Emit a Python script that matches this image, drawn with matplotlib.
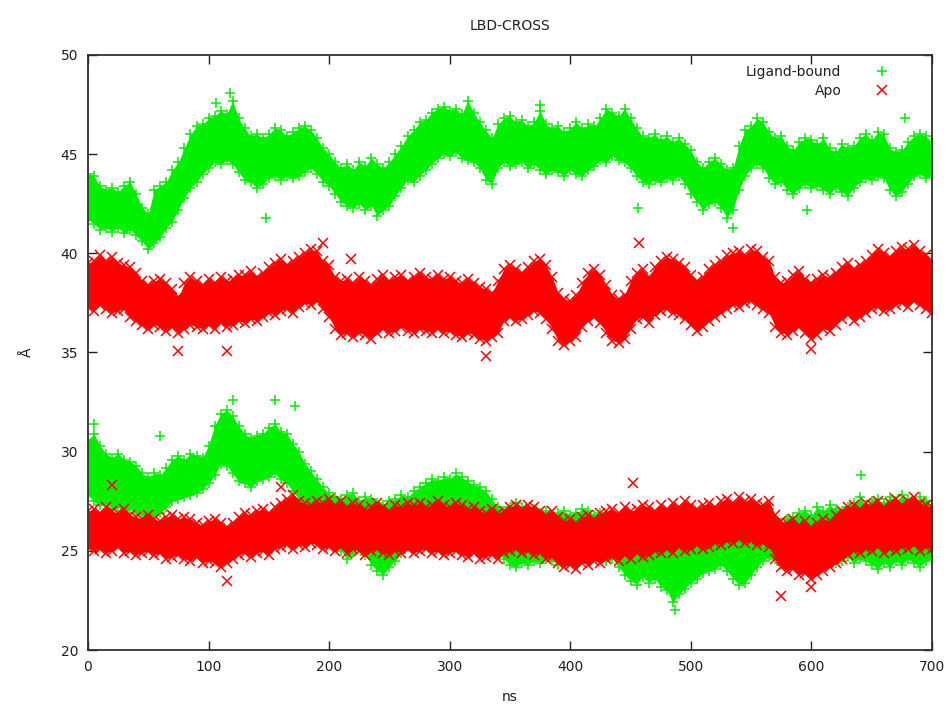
import matplotlib
matplotlib.use("Agg")
import matplotlib.pyplot as plt
from matplotlib.lines import Line2D

# ---------------- data ----------------
time_ns = list(range(0, 705, 5))

# Ligand-bound, upper cloud (~42-47 Å): upper / lower edge of the cloud
lig_upper_hi = [
    44.0, 43.9, 43.4, 43.2, 43.3, 43.1, 43.4, 43.6, 43.0, 42.3,
    42.0, 43.2, 43.4, 43.6, 44.2, 44.6, 45.3, 46.0, 46.4, 46.5,
    46.8, 46.9, 47.2, 47.0, 47.7, 46.8, 46.3, 45.9, 46.0, 45.8,
    46.0, 46.3, 46.2, 45.9, 46.1, 46.3, 46.4, 46.2, 45.8, 45.3,
    45.0, 44.6, 44.3, 44.5, 44.2, 44.6, 44.4, 44.8, 44.5, 44.3,
    44.6, 45.0, 45.4, 45.9, 46.2, 46.6, 46.7, 47.1, 47.3, 47.4,
    47.2, 47.3, 47.0, 47.7, 47.1, 46.6, 46.2, 45.8, 46.5, 46.8,
    46.9, 46.6, 46.7, 46.4, 46.6, 47.2, 46.5, 46.3, 46.4, 46.1,
    46.3, 46.6, 46.3, 46.5, 46.4, 46.8, 47.3, 47.1, 46.9, 47.3,
    46.8, 46.3, 45.9, 45.8, 46.0, 45.7, 45.9, 45.6, 45.8, 45.5,
    45.2, 44.6, 44.3, 44.6, 44.8, 44.5, 44.2, 44.3, 45.4, 46.2,
    46.4, 46.8, 46.6, 46.1, 45.8, 45.9, 45.4, 45.2, 45.6, 45.8,
    45.7, 45.5, 45.8, 45.3, 45.1, 45.5, 45.3, 45.4, 45.8, 46.0,
    45.7, 46.1, 46.0, 45.3, 45.1, 45.2, 45.6, 45.9, 46.0, 45.9,
    45.6]
lig_upper_lo = [
    41.7, 41.5, 41.2, 41.3, 41.1, 41.3, 41.0, 41.2, 40.9, 40.6,
    40.2, 40.5, 40.8, 41.3, 41.6, 42.2, 42.8, 43.3, 43.6, 44.0,
    44.3, 44.6, 44.5, 44.7, 44.5, 44.1, 43.7, 43.6, 43.3, 43.5,
    43.8, 43.9, 43.7, 43.9, 43.8, 43.9, 44.1, 44.3, 44.0, 43.6,
    43.4, 43.0, 42.6, 42.4, 42.3, 42.5, 42.2, 42.4, 41.9, 42.2,
    42.4, 42.9, 43.3, 43.7, 43.6, 43.9, 44.2, 44.5, 44.8, 45.0,
    44.9, 45.1, 44.8, 44.7, 44.6, 44.3, 43.7, 43.5, 44.3, 44.6,
    44.4, 44.5, 44.6, 44.3, 44.5, 44.2, 44.0, 44.2, 44.1, 43.9,
    44.2, 44.0, 43.9, 44.2, 44.4, 44.7, 44.6, 44.9, 44.7, 44.6,
    44.3, 43.9, 43.6, 43.5, 43.7, 43.6, 43.8, 43.7, 43.9, 43.5,
    43.0, 42.6, 42.2, 42.5, 42.6, 42.3, 41.8, 42.2, 43.2, 43.9,
    44.3, 44.5, 44.3, 43.8, 43.5, 43.6, 43.2, 43.0, 43.3, 43.5,
    43.3, 43.4, 43.2, 43.0, 43.3, 43.1, 42.9, 43.3, 43.6, 43.8,
    43.7, 43.9, 43.8, 43.2, 42.9, 43.1, 43.5, 43.9, 44.0, 43.8,
    43.9]

# Ligand-bound, lower cloud (~24-32 Å)
lig_lower_hi = [
    30.6, 30.9, 30.3, 29.9, 29.7, 29.9, 29.6, 29.5, 29.3, 28.9,
    28.7, 28.9, 28.8, 29.2, 29.6, 29.8, 29.6, 29.9, 29.8, 29.7,
    30.3, 31.3, 31.9, 32.1, 31.8, 31.3, 30.9, 30.7, 30.8, 30.9,
    31.2, 31.4, 31.0, 30.9, 30.4, 30.0, 29.4, 29.0, 28.6, 28.2,
    27.9, 27.7, 27.6, 27.8, 27.9, 27.5, 27.7, 27.6, 27.4, 27.3,
    27.5, 27.6, 27.8, 27.7, 28.0, 28.2, 28.4, 28.6, 28.5, 28.7,
    28.6, 28.9, 28.7, 28.5, 28.3, 28.2, 28.0, 27.6, 27.2, 27.0,
    27.2, 27.4, 27.2, 27.0, 27.1, 26.9, 27.0, 26.8, 26.9, 27.0,
    26.8, 26.9, 27.1, 27.0, 26.8, 26.9, 26.8, 26.9, 26.7, 26.6,
    26.8, 26.5, 26.7, 26.6, 26.4, 26.6, 26.3, 26.5, 26.4, 26.6,
    26.7, 26.5, 26.6, 26.8, 26.6, 26.9, 27.1, 26.9, 27.0, 27.2,
    27.0, 26.8, 26.9, 27.1, 26.6, 26.4, 26.6, 26.7, 26.9, 27.0,
    26.8, 27.2, 27.0, 27.3, 27.1, 27.0, 27.2, 27.4, 27.7, 27.3,
    27.5, 27.6, 27.4, 27.7, 27.5, 27.8, 27.6, 27.4, 27.7, 27.5,
    27.3]
lig_lower_lo = [
    27.8, 27.5, 27.3, 27.4, 27.1, 27.2, 27.0, 27.1, 26.9, 26.8,
    26.6, 26.8, 26.9, 27.2, 27.5, 27.6, 27.7, 27.8, 27.9, 28.1,
    28.4, 28.8, 29.4, 29.3, 28.9, 28.5, 28.4, 28.2, 28.5, 28.6,
    28.7, 28.9, 28.6, 28.4, 28.0, 27.6, 27.2, 26.8, 26.4, 26.0,
    25.6, 25.3, 25.0, 24.6, 24.9, 25.2, 24.8, 24.3, 24.0, 23.8,
    24.2, 24.5, 24.9, 25.2, 25.5, 25.9, 26.3, 26.5, 26.8, 26.9,
    26.7, 26.8, 26.6, 26.4, 26.2, 25.9, 25.6, 25.2, 24.9, 24.6,
    24.3, 24.2, 24.4, 24.3, 24.5, 24.4, 24.6, 24.5, 24.3, 24.6,
    24.7, 24.5, 24.8, 24.6, 24.9, 24.7, 24.5, 24.6, 24.2, 23.8,
    23.5, 23.3, 23.7, 23.4, 23.6, 23.2, 23.0, 22.4, 22.8, 23.1,
    23.4, 23.6, 23.9, 24.0, 24.1, 24.3, 24.0, 23.6, 23.3, 23.4,
    23.8, 24.2, 24.5, 24.7, 24.6, 24.3, 24.4, 24.6, 24.5, 24.7,
    24.4, 24.5, 24.3, 24.6, 24.4, 24.5, 24.7, 24.4, 24.6, 24.5,
    24.3, 24.1, 24.4, 24.2, 24.5, 24.3, 24.6, 24.4, 24.2, 24.5,
    24.6]

# Apo, upper cloud (~35-40.5 Å)
apo_upper_hi = [
    39.5, 39.6, 39.9, 39.6, 39.8, 39.5, 39.4, 39.3, 39.0, 38.6,
    38.4, 38.6, 38.7, 38.5, 38.2, 37.8, 38.5, 38.8, 38.6, 38.4,
    38.7, 38.5, 38.8, 38.6, 38.7, 38.9, 38.9, 39.1, 38.8, 39.0,
    39.3, 39.5, 39.7, 39.4, 39.6, 39.8, 40.0, 40.2, 40.1, 39.6,
    39.4, 38.8, 38.6, 38.7, 38.5, 38.8, 38.6, 38.4, 38.7, 38.9,
    38.6, 38.8, 38.9, 38.6, 38.8, 39.0, 38.8, 38.7, 38.9, 38.7,
    38.8, 38.6, 38.5, 38.7, 38.5, 38.3, 38.2, 38.0, 38.6, 39.2,
    39.4, 39.2, 39.0, 39.3, 39.6, 39.7, 39.4, 38.8, 38.0, 37.7,
    37.6, 37.9, 38.5, 39.0, 39.2, 38.9, 38.4, 37.9, 37.7, 37.9,
    38.6, 39.0, 39.2, 38.8, 39.3, 39.6, 39.8, 39.7, 39.5, 39.3,
    38.9, 38.6, 38.8, 39.2, 39.4, 39.6, 39.9, 40.0, 40.1, 39.9,
    40.2, 40.1, 39.8, 39.6, 38.8, 38.5, 38.6, 38.9, 39.1, 38.7,
    38.5, 38.7, 38.9, 38.8, 39.0, 39.3, 39.5, 39.2, 39.4, 39.6,
    39.9, 40.2, 40.0, 39.8, 40.1, 40.3, 40.2, 40.4, 40.1, 39.9,
    39.6]
apo_upper_lo = [
    37.3, 37.1, 37.4, 37.2, 37.0, 37.1, 37.2, 36.8, 36.6, 36.4,
    36.2, 36.4, 36.3, 36.1, 36.3, 36.0, 36.2, 36.4, 36.3, 36.2,
    36.4, 36.2, 36.5, 36.3, 36.4, 36.6, 36.5, 36.7, 36.6, 36.8,
    37.0, 36.9, 37.1, 37.2, 37.0, 37.3, 37.5, 37.4, 37.6, 37.2,
    36.8, 36.2, 35.9, 36.0, 35.8, 36.0, 35.9, 35.7, 36.0, 36.2,
    36.0, 36.1, 36.3, 36.1, 36.0, 36.2, 36.1, 36.0, 36.2, 36.0,
    36.1, 35.9, 35.8, 36.0, 35.9, 35.7, 35.6, 35.8, 36.0, 36.6,
    36.8, 36.6, 36.7, 36.9, 37.1, 37.0, 36.7, 36.2, 35.6, 35.4,
    35.6, 35.8, 36.3, 36.6, 36.8, 36.5, 36.0, 35.6, 35.5, 35.7,
    36.2, 36.7, 36.8, 36.5, 36.9, 37.1, 37.2, 37.0, 36.9, 36.7,
    36.4, 36.1, 36.3, 36.6, 36.8, 37.0, 37.2, 37.4, 37.3, 37.5,
    37.6, 37.4, 37.2, 37.0, 36.3, 36.0, 35.9, 36.1, 36.3, 36.0,
    35.7, 35.9, 36.2, 36.1, 36.4, 36.7, 36.9, 36.6, 36.8, 37.0,
    37.2, 37.3, 37.1, 37.2, 37.4, 37.5, 37.3, 37.6, 37.4, 37.2,
    37.0]

# Apo, lower cloud (~24-27.5 Å)
apo_lower_hi = [
    27.0, 27.1, 26.9, 27.2, 27.0, 26.9, 27.1, 26.8, 26.7, 26.6,
    26.8, 26.6, 26.5, 26.7, 26.8, 26.6, 26.7, 26.6, 26.4, 26.3,
    26.5, 26.6, 26.4, 26.2, 26.4, 26.7, 26.9, 26.8, 27.0, 27.1,
    26.9, 27.2, 27.4, 27.6, 27.8, 27.5, 27.4, 27.3, 27.5, 27.4,
    27.6, 27.3, 27.5, 27.2, 27.4, 27.3, 27.1, 27.2, 27.4, 27.2,
    27.0, 27.3, 27.2, 27.4, 27.3, 27.4, 27.2, 27.3, 27.5, 27.3,
    27.2, 27.4, 27.3, 27.1, 27.2, 27.0, 26.9, 27.1, 26.9, 27.0,
    27.2, 27.3, 27.1, 27.3, 27.2, 27.0, 26.8, 27.0, 26.7, 26.5,
    26.6, 26.4, 26.7, 26.8, 26.6, 26.9, 27.0, 27.1, 26.9, 27.2,
    27.0, 27.1, 27.3, 27.2, 27.0, 27.3, 27.1, 27.4, 27.2, 27.5,
    27.3, 27.1, 27.3, 27.4, 27.2, 27.5, 27.6, 27.4, 27.7, 27.5,
    27.6, 27.4, 27.3, 27.5, 26.8, 26.5, 26.4, 26.6, 26.3, 26.5,
    26.2, 26.4, 26.6, 26.5, 26.8, 27.0, 27.2, 27.3, 27.1, 27.4,
    27.3, 27.5, 27.2, 27.4, 27.6, 27.3, 27.5, 27.7, 27.4, 27.3,
    27.2]
apo_lower_lo = [
    25.2, 25.0, 25.1, 24.9, 25.0, 25.2, 24.9, 25.0, 24.8, 24.9,
    25.0, 24.8, 24.9, 24.6, 24.7, 24.8, 24.6, 24.5, 24.7, 24.4,
    24.5, 24.4, 24.2, 24.4, 24.6, 24.8, 24.9, 24.7, 24.9, 25.0,
    24.8, 25.1, 25.2, 25.3, 25.1, 25.3, 25.2, 25.4, 25.3, 25.1,
    25.2, 25.0, 25.2, 24.9, 25.1, 25.0, 24.8, 25.0, 25.1, 24.9,
    24.8, 25.0, 24.9, 25.1, 24.9, 25.0, 25.1, 24.9, 25.0, 24.8,
    24.9, 25.0, 24.8, 24.7, 24.9, 24.6, 24.7, 24.8, 24.6, 24.9,
    25.0, 25.1, 24.9, 25.0, 24.8, 24.9, 24.6, 24.7, 24.4, 24.2,
    24.3, 24.1, 24.4, 24.3, 24.5, 24.4, 24.6, 24.7, 24.5, 24.8,
    24.6, 24.9, 24.7, 24.8, 25.0, 24.9, 25.1, 24.9, 25.2, 25.0,
    25.1, 25.3, 25.1, 25.2, 25.4, 25.3, 25.5, 25.4, 25.6, 25.4,
    25.5, 25.3, 25.4, 25.2, 24.6, 24.2, 24.0, 24.1, 23.8, 23.9,
    23.6, 23.8, 24.0, 24.2, 24.4, 24.6, 24.8, 25.0, 24.9, 25.1,
    25.0, 25.2, 24.9, 25.1, 25.0, 25.2, 25.1, 25.3, 25.0, 25.2,
    25.1]

# isolated points that stand out of the clouds
lig_out_t = [106, 118, 148, 375, 456, 535, 596, 678, 5, 60, 120, 155, 172, 487, 641]
lig_out_v = [47.6, 48.1, 41.8, 47.5, 42.3, 41.3, 42.2, 46.8, 31.4, 30.8, 32.6, 32.6, 32.3, 22.0, 28.8]
apo_out_t = [75, 115, 195, 218, 330, 457, 600, 20, 115, 160, 452, 575, 600]
apo_out_v = [35.1, 35.1, 40.5, 39.7, 34.8, 40.5, 35.2, 28.3, 23.5, 28.2, 28.4, 22.7, 23.2]

series_names = ["Ligand-bound", "Apo"]
x_ticks = [0, 100, 200, 300, 400, 500, 600, 700]
y_ticks = [20, 25, 30, 35, 40, 45, 50]

# ---------------- drawing ----------------
GREEN = "#00ee00"
RED = "#ff0000"
plt.rcParams['font.family'] = ['DejaVu Sans']

fig = plt.figure(figsize=(9.48, 7.09), dpi=100)
ax = fig.add_axes([88/948, 59/709, 844/948, 595/709])

ms = 7.5
mew = 1.1


def cloud(lo, hi, color, marker):
    ax.fill_between(time_ns, lo, hi, color=color, lw=0, zorder=2)
    ax.plot(time_ns, lo, ls='none', marker=marker, ms=ms, mew=mew, color=color, zorder=2)
    ax.plot(time_ns, hi, ls='none', marker=marker, ms=ms, mew=mew, color=color, zorder=2)


cloud(lig_upper_lo, lig_upper_hi, GREEN, '+')
cloud(lig_lower_lo, lig_lower_hi, GREEN, '+')
ax.plot(lig_out_t, lig_out_v, ls='none', marker='+', ms=ms, mew=mew, color=GREEN, zorder=2)

cloud(apo_upper_lo, apo_upper_hi, RED, 'x')
cloud(apo_lower_lo, apo_lower_hi, RED, 'x')
ax.plot(apo_out_t, apo_out_v, ls='none', marker='x', ms=ms * 0.9, mew=mew, color=RED, zorder=3)

ax.set_xlim(0, 700)
ax.set_ylim(20, 50)
ax.set_xticks(x_ticks)
ax.set_yticks(y_ticks)
ax.tick_params(direction='in', length=6.5, width=1.0, top=True, right=True,
               labelsize=10, colors='#202020', pad=7)
for s in ax.spines.values():
    s.set_linewidth(1.3)
    s.set_color('#303030')

ax.set_title("LBD-CROSS", fontsize=10, pad=18, color='#202020')
ax.set_xlabel("ns", fontsize=10, labelpad=12, color='#202020')
ax.set_ylabel("Å", fontsize=10, labelpad=19, color='#202020')

handles = [Line2D([], [], ls='none', marker='+', ms=ms, mew=mew, color=GREEN),
           Line2D([], [], ls='none', marker='x', ms=ms * 0.9, mew=mew, color=RED)]
leg = ax.legend(handles, series_names, loc='upper right', frameon=False, markerfirst=False,
                fontsize=10, handlelength=2.2, handletextpad=1.8, labelspacing=0.37,
                borderaxespad=0.3, bbox_to_anchor=(0.970, 1.0))
for t in leg.get_texts():
    t.set_ha('right')
    t.set_color('#202020')

fig.savefig("out.png", dpi=100)
